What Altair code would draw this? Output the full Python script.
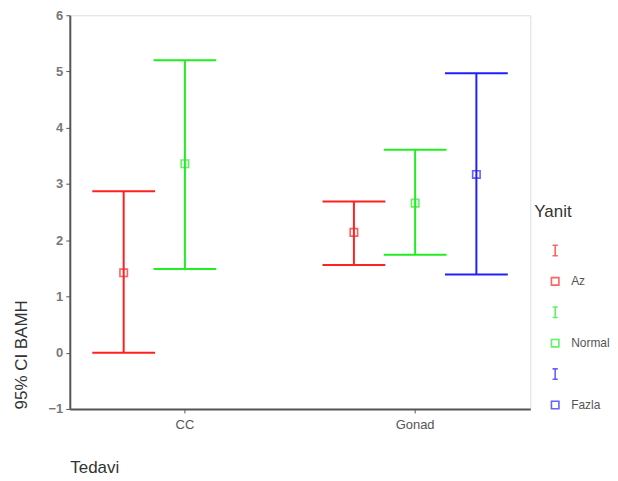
import altair as alt
import pandas as pd

# ---- data ----
tedavi = ["CC", "CC", "Gonad", "Gonad", "Gonad"]
yanit = ["Az", "Normal", "Az", "Normal", "Fazla"]
mean = [1.42, 3.36, 2.14, 2.66, 3.17]
lower = [0.00, 1.49, 1.56, 1.74, 1.39]
upper = [2.87, 5.20, 2.69, 3.61, 4.97]

groups = ["Az", "Normal", "Fazla"]
colors = ["#ff2020", "#20ee20", "#2020ff"]

df = pd.DataFrame({"Tedavi": tedavi, "Yanit": yanit, "mean": mean,
                   "lower": lower, "upper": upper})

# legend: an I-beam row then a square row for each group
leg_domain = ["Az|I", "Az", "Normal|I", "Normal", "Fazla|I", "Fazla"]
leg_colors = [colors[0], colors[0], colors[1], colors[1], colors[2], colors[2]]
ibeam = "M-0.7,-1.4H0.7M0,-1.4V1.4M-0.7,1.4H0.7"
square = "M-1,-1H1V1H-1Z"
leg_shapes = [ibeam, square, ibeam, square, ibeam, square]

FONT = "Liberation Sans"

x_enc = alt.X("Tedavi:N",
              scale=alt.Scale(paddingInner=0, paddingOuter=0),
              axis=alt.Axis(labelAngle=0, title="Tedavi", titleAnchor="start",
                            titleX=0, titleY=59, titleAlign="left",
                            titleBaseline="middle", titleFontSize=17,
                            titleFontWeight="normal", titleColor="#333333",
                            labelFontSize=13, labelColor="#555555",
                            tickSize=4, tickColor="#555555", labelPadding=6,
                            domainColor="#555555", domainWidth=2))
xo_enc = alt.XOffset("Yanit:N",
                     scale=alt.Scale(domain=groups, paddingInner=0, paddingOuter=0.38))
stroke_enc = alt.Stroke("Yanit:N", scale=alt.Scale(domain=groups, range=colors),
                        legend=None)
fill_enc = alt.Fill("Yanit:N", scale=alt.Scale(domain=groups, range=colors),
                    legend=None)

y_axis = alt.Axis(values=[-1, 0, 1, 2, 3, 4, 5, 6], format="d", grid=False,
                  title="95% CI BAMH",
                  titleAngle=-90, titleX=-48, titleY=395, titleAlign="left",
                  titleBaseline="middle", titleFontSize=17, titleFontWeight="normal",
                  titleColor="#333333", labelFontSize=13, labelFontWeight="bold",
                  labelColor="#777777", tickSize=4, tickColor="#555555",
                  labelPadding=3, domainColor="#555555", domainWidth=2)
y_scale = alt.Scale(domain=[-1, 6], nice=False, zero=False)

base = alt.Chart(df)

rules = base.mark_rule(strokeWidth=2).encode(
    x=x_enc, xOffset=xo_enc,
    y=alt.Y("lower:Q", scale=y_scale, axis=y_axis),
    y2="upper:Q",
    stroke=stroke_enc,
)
tick_lo = base.mark_tick(size=63, thickness=2, strokeOpacity=0, opacity=1).encode(
    x=x_enc, xOffset=xo_enc, y=alt.Y("lower:Q", scale=y_scale), fill=fill_enc)
tick_hi = base.mark_tick(size=63, thickness=2, strokeOpacity=0, opacity=1).encode(
    x=x_enc, xOffset=xo_enc, y=alt.Y("upper:Q", scale=y_scale), fill=fill_enc)

legend = alt.Legend(title="Yanit", orient="none", legendX=466, legendY=189,
                    titleFontSize=17, titleFontWeight="normal", titleColor="#333333",
                    titlePadding=24, labelFontSize=12, labelColor="#555555",
                    labelLimit=100,
                    labelExpr="indexof(datum.label, '|') >= 0 ? '' : datum.label",
                    symbolSize=56, symbolStrokeWidth=1.6, symbolOffset=15,
                    labelOffset=10, rowPadding=15, padding=0)

points = base.mark_point(filled=False, size=56, strokeWidth=1.6).encode(
    x=x_enc, xOffset=xo_enc,
    y=alt.Y("mean:Q", scale=y_scale),
    color=alt.Color("Yanit:N", scale=alt.Scale(domain=leg_domain, range=leg_colors),
                    legend=legend),
    shape=alt.Shape("Yanit:N", scale=alt.Scale(domain=leg_domain, range=leg_shapes),
                    legend=legend),
)

chart = alt.layer(rules, tick_lo, tick_hi, points).properties(
    width=462, height=395,
    autosize=alt.AutoSizeParams(type="none"),
    padding={"left": 62, "top": 6.5, "right": 80, "bottom": 68},
).configure_view(
    stroke="#555555", strokeWidth=2
).configure(font=FONT, background="white")

chart.save("out.html", embed_options={"renderer": "svg", "actions": False})
